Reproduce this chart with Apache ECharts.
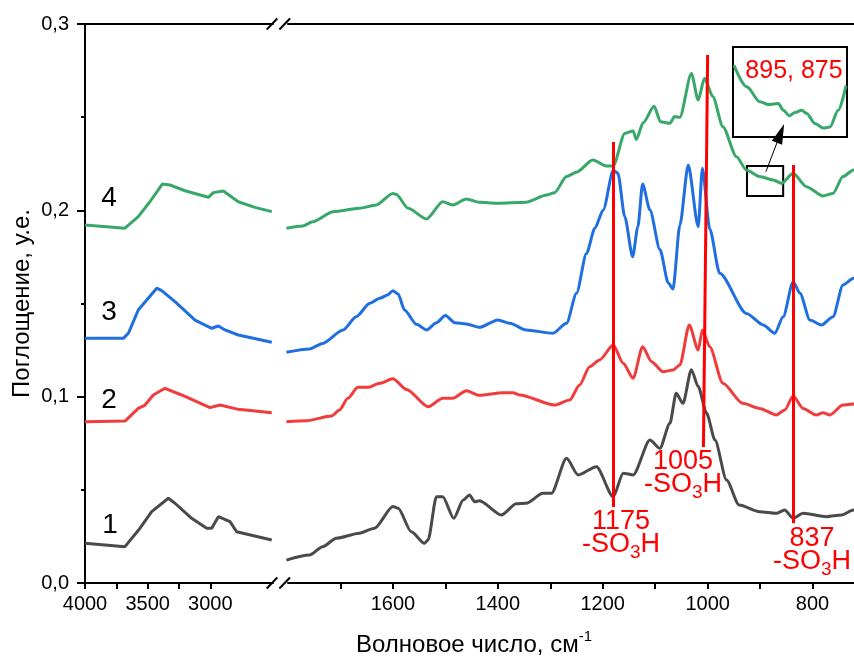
<!DOCTYPE html>
<html lang="ru">
<head>
<meta charset="UTF-8">
<title>ИК-спектры</title>
<style>
  html, body { margin: 0; padding: 0; background: #fff; }
  #chart { width: 854px; height: 660px; }
</style>
</head>
<body>
<div id="chart"></div>
<script src="https://cdn.jsdelivr.net/npm/echarts@6.0.0/dist/echarts.min.js"></script>
<script>
// --- данные (волновое число, поглощение) ---
// левый участок 4000-2500 см-1
var s1Left = [[4000,0.0213],[3681,0.0195],[3561,0.0294],[3468,0.0383],[3335,0.0455],[3282,0.0428],[3149,0.0347],[3029,0.0294],[2989,0.0294],[2936,0.0356],[2843,0.0329],[2790,0.0275],[2510,0.0231]];
var s2Left = [[4000,0.0866],[3681,0.0869],[3575,0.0937],[3521,0.0955],[3455,0.1009],[3362,0.1045],[3229,0.1009],[3003,0.0941],[2923,0.0955],[2777,0.0932],[2510,0.0914]];
var s3Left = [[4000,0.1313],[3694,0.1313],[3654,0.1340],[3575,0.1465],[3428,0.1582],[3388,0.1569],[3282,0.1510],[3122,0.1411],[2989,0.1367],[2936,0.1379],[2883,0.1358],[2777,0.1331],[2510,0.1292]];
var s4Left = [[4000,0.1921],[3681,0.1904],[3575,0.1966],[3482,0.2046],[3383,0.2141],[3322,0.2136],[3202,0.2105],[3016,0.2070],[2976,0.2095],[2896,0.2104],[2777,0.2046],[2644,0.2016],[2510,0.1993]];

// правый участок 1800-700 см-1
var s1Right = [[1803,0.0123],[1759,0.0150],[1734,0.0195],[1708,0.0240],[1664,0.0267],[1635,0.0294],[1600,0.0410],[1590,0.0401],[1565,0.0275],[1540,0.0213],[1533,0.0231],[1517,0.0463],[1505,0.0463],[1484,0.0347],[1466,0.0445],[1454,0.0472],[1444,0.0436],[1435,0.0442],[1393,0.0365],[1365,0.0425],[1346,0.0428],[1314,0.0481],[1298,0.0481],[1269,0.0669],[1247,0.0580],[1212,0.0624],[1180,0.0463],[1161,0.0589],[1142,0.0580],[1110,0.0767],[1091,0.0723],[1072,0.0857],[1060,0.1018],[1047,0.0964],[1031,0.1145],[1018,0.1054],[1002,0.0911],[986,0.0767],[964,0.0553],[940,0.0419],[901,0.0383],[869,0.0374],[853,0.0392],[837,0.0347],[818,0.0374],[773,0.0356],[745,0.0365],[722,0.0392],[705,0.0400]];
var s2Right = [[1803,0.0866],[1765,0.0871],[1717,0.0896],[1702,0.0928],[1686,0.0991],[1667,0.1050],[1648,0.1050],[1625,0.1072],[1600,0.1096],[1574,0.1039],[1533,0.0946],[1505,0.0991],[1486,0.0991],[1460,0.1032],[1435,0.1007],[1390,0.1021],[1371,0.1021],[1358,0.1009],[1292,0.0955],[1263,0.0982],[1244,0.1063],[1225,0.1161],[1206,0.1197],[1180,0.1277],[1161,0.1179],[1142,0.1099],[1124,0.1268],[1107,0.1188],[1085,0.1134],[1066,0.1143],[1053,0.1170],[1035,0.1385],[1018,0.1250],[1010,0.1358],[996,0.1268],[971,0.1072],[933,0.0964],[901,0.0937],[869,0.0902],[853,0.0928],[837,0.1004],[818,0.0937],[793,0.0902],[780,0.0914],[767,0.0902],[742,0.0955],[722,0.0961],[705,0.0965]];
var s3Right = [[1803,0.1238],[1759,0.1256],[1734,0.1286],[1695,0.1358],[1670,0.1429],[1644,0.1501],[1625,0.1528],[1610,0.1546],[1600,0.1569],[1590,0.1551],[1578,0.1465],[1555,0.1388],[1536,0.1358],[1517,0.1397],[1500,0.1435],[1482,0.1397],[1460,0.1390],[1435,0.1372],[1400,0.1412],[1377,0.1394],[1346,0.1358],[1295,0.1340],[1269,0.1394],[1250,0.1555],[1231,0.1769],[1215,0.1904],[1199,0.2002],[1180,0.2215],[1171,0.2199],[1158,0.1966],[1143,0.1751],[1133,0.1912],[1124,0.2141],[1110,0.2002],[1091,0.1790],[1075,0.1610],[1066,0.1578],[1053,0.1920],[1037,0.2243],[1018,0.1912],[1010,0.2226],[996,0.1900],[977,0.1662],[926,0.1447],[894,0.1385],[872,0.1340],[856,0.1429],[837,0.1617],[824,0.1555],[805,0.1411],[783,0.1385],[761,0.1429],[742,0.1599],[722,0.1635],[705,0.1660]];
var s4Right = [[1803,0.1904],[1772,0.1916],[1753,0.1939],[1714,0.1993],[1664,0.2011],[1632,0.2029],[1600,0.2091],[1594,0.2086],[1571,0.2011],[1536,0.1954],[1505,0.2046],[1486,0.2029],[1460,0.2061],[1435,0.2043],[1403,0.2038],[1346,0.2044],[1307,0.2082],[1292,0.2095],[1269,0.2181],[1250,0.2205],[1219,0.2270],[1193,0.2238],[1180,0.2238],[1158,0.2413],[1142,0.2426],[1136,0.2380],[1123,0.2470],[1102,0.2558],[1090,0.2476],[1072,0.2467],[1063,0.2503],[1053,0.2499],[1031,0.2735],[1018,0.2592],[1006,0.2709],[990,0.2610],[971,0.2449],[945,0.2288],[926,0.2216],[901,0.2181],[875,0.2163],[859,0.2145],[837,0.2199],[812,0.2127],[780,0.2077],[761,0.2091],[742,0.2181],[722,0.2217],[705,0.2240]];

// врезка: увеличенный фрагмент кривой 4 (925-856 см-1)
var insetCurve = [[924.4,0.2205],[916.7,0.2167],[908.7,0.2140],[903.6,0.2135],[897.6,0.2137],[894.6,0.2125],[890.9,0.2115],[887.5,0.2121],[883.4,0.2125],[880.4,0.2119],[875.4,0.2101],[870.3,0.2093],[866.3,0.2095],[861.3,0.2125],[856.6,0.2169]];
var insetRangeX = [856, 925];
var insetRangeY = [0.2077, 0.2238];

// отметки осей
var leftLabels = [4000, 3500, 3000];
var leftTicks = [4000, 3750, 3500, 3250, 3000];
var rightLabels = [1600, 1400, 1200, 1000, 800];
var rightTicks = [1700, 1600, 1500, 1400, 1300, 1200, 1100, 1000, 900, 800];

// полосы -SO3H: [волновое число сверху, снизу, поглощение сверху, снизу]
var bandLines = [[1180, 1180, 0.2367, 0.0408], [1000, 1008, 0.2834, 0.0730], [837, 837, 0.2243, 0.0320]];
var arrowFrom = [889, 0.2207];
var arrowTo = [861, 0.2413];

var colors = ['#4a4a4a', '#f03c3c', '#1f6fe0', '#38a869'];
var FONT = 'Liberation Sans, Arial, sans-serif';

var chart = echarts.init(document.getElementById('chart'));

var axisLine = { show: true, lineStyle: { color: '#000', width: 2 } };

function bottomAxis(grid, min, max, ticks, labels) {
    return {
        type: 'value', gridIndex: grid, min: min, max: max, inverse: true,
        axisLine: axisLine,
        axisTick: { show: true, length: 6, customValues: ticks, lineStyle: { color: '#000', width: 2 } },
        axisLabel: {
            show: true, customValues: labels, margin: 11, color: '#000', fontSize: 20, fontFamily: FONT,
            formatter: function (v) { return String(v); }
        },
        splitLine: { show: false }
    };
}
function topAxis(grid, min, max) {
    return {
        type: 'value', gridIndex: grid, min: min, max: max, inverse: true, position: 'top',
        axisLine: axisLine, axisTick: { show: false }, axisLabel: { show: false }, splitLine: { show: false }
    };
}
function line(data, xi, yi, color, smooth) {
    return {
        type: 'line', data: data, xAxisIndex: xi, yAxisIndex: yi,
        showSymbol: false, smooth: smooth, smoothMonotone: 'x',
        lineStyle: { color: color, width: 3 }, itemStyle: { color: color }
    };
}

var series = [
    line(s1Left, 0, 0, colors[0], false),
    line(s2Left, 0, 0, colors[1], false),
    line(s3Left, 0, 0, colors[2], false),
    line(s4Left, 0, 0, colors[3], false),
    line(s1Right, 1, 1, colors[0], 0.25),
    line(s2Right, 1, 1, colors[1], 0.25),
    line(s3Right, 1, 1, colors[2], 0.25),
    line(s4Right, 1, 1, colors[3], 0.25),
    line(insetCurve, 4, 2, colors[3], 0.3)
];

// красные линии полос
series[5].markLine = {
    silent: true, symbol: ['none', 'none'], animation: false,
    label: { show: false },
    lineStyle: { color: '#ff0000', width: 3, type: 'solid' },
    data: bandLines.map(function (b) {
        return [{ coord: [b[0], b[2]] }, { coord: [b[1], b[3]] }];
    })
};
// рамка фрагмента и стрелка к врезке
series[7].markArea = {
    silent: true,
    itemStyle: { color: 'rgba(0,0,0,0)', borderColor: '#000', borderWidth: 2 },
    data: [[{ coord: [insetRangeX[1], insetRangeY[1]] }, { coord: [insetRangeX[0], insetRangeY[0]] }]]
};
series[7].markLine = {
    silent: true, symbol: ['none', 'triangle'], symbolSize: [11, 20], animation: false,
    label: { show: false },
    lineStyle: { color: '#000', width: 1, type: 'solid' },
    data: [[{ coord: arrowFrom }, { coord: arrowTo }]]
};

var redRich = {
    a: { fontSize: 27, lineHeight: 23, fill: '#ff0000', fontFamily: FONT, verticalAlign: 'top' },
    b: { fontSize: 19, lineHeight: 16, fill: '#ff0000', fontFamily: FONT, verticalAlign: 'top', padding: [12, 0, 0, 0] }
};
function soLabel(num, x, y) {
    return {
        type: 'text', x: x, y: y, silent: true,
        style: { text: '{a|' + num + '}\n{a|-SO}{b|3}{a|H}', rich: redRich, fill: '#ff0000', align: 'center', verticalAlign: 'top' }
    };
}
function numLabel(t, x, y) {
    return {
        type: 'text', x: x, y: y, silent: true,
        style: { text: t, fontSize: 28, fontFamily: FONT, fill: '#000', align: 'center', verticalAlign: 'middle' }
    };
}
function slash(cx, cy) {
    return {
        type: 'line', silent: true,
        shape: { x1: cx - 5.3, y1: cy + 5.5, x2: cx + 5.3, y2: cy - 5.5 },
        style: { stroke: '#000', lineWidth: 2 }
    };
}

chart.setOption({
    animation: false,
    backgroundColor: '#fff',
    grid: [
        { left: 85, top: 24, width: 188, height: 559, outerBoundsMode: 'none' },
        { left: 288, top: 24, width: 577, height: 559, outerBoundsMode: 'none' },
        { left: 733, top: 47, width: 114, height: 90, outerBoundsMode: 'none', show: true, borderColor: '#000', borderWidth: 2, backgroundColor: 'rgba(0,0,0,0)' }
    ],
    xAxis: [
        bottomAxis(0, 2500, 4000, leftTicks, leftLabels),
        bottomAxis(1, 700, 1800, rightTicks, rightLabels),
        topAxis(0, 2500, 4000),
        topAxis(1, 700, 1800),
        { type: 'value', gridIndex: 2, min: insetRangeX[0], max: insetRangeX[1], inverse: true, show: false }
    ],
    yAxis: [
        {
            type: 'value', gridIndex: 0, min: 0, max: 0.3, interval: 0.1,
            name: 'Поглощение, у.е.', nameLocation: 'middle', nameGap: 51, nameRotate: 90,
            nameTextStyle: { fontSize: 24, color: '#000', fontFamily: FONT },
            axisLine: axisLine,
            axisTick: { show: true, length: 8, lineStyle: { color: '#000', width: 2 } },
            minorTick: { show: true, splitNumber: 2, length: 4, lineStyle: { color: '#000', width: 2 } },
            axisLabel: {
                margin: 16, color: '#000', fontSize: 20, fontFamily: FONT,
                formatter: function (v) { return v.toFixed(1).replace('.', ','); }
            },
            splitLine: { show: false }
        },
        { type: 'value', gridIndex: 1, min: 0, max: 0.3, show: false },
        { type: 'value', gridIndex: 2, min: insetRangeY[0], max: insetRangeY[1], show: false }
    ],
    series: series,
    graphic: [
        numLabel('4', 109, 198),
        numLabel('3', 109, 312),
        numLabel('2', 109, 400),
        numLabel('1', 110, 525),
        soLabel('1175', 621, 508),
        soLabel('1005', 683, 448),
        soLabel('837', 812, 525),
        {
            type: 'text', x: 794, y: 71, silent: true,
            style: { text: '895, 875', fontSize: 25, fontFamily: FONT, fill: '#ff0000', align: 'center', verticalAlign: 'middle' }
        },
        {
            type: 'text', x: 474, y: 629, silent: true,
            style: {
                text: '{a|Волновое число, см}{s|-1}', align: 'center', verticalAlign: 'top',
                rich: {
                    a: { fontSize: 24, lineHeight: 28, fill: '#000', fontFamily: FONT, verticalAlign: 'bottom' },
                    s: { fontSize: 15, lineHeight: 14, fill: '#000', fontFamily: FONT, verticalAlign: 'top' }
                }
            }
        },
        slash(272, 24), slash(284.7, 24),
        slash(272, 583), slash(284.7, 583)
    ]
});
</script>
</body>
</html>
